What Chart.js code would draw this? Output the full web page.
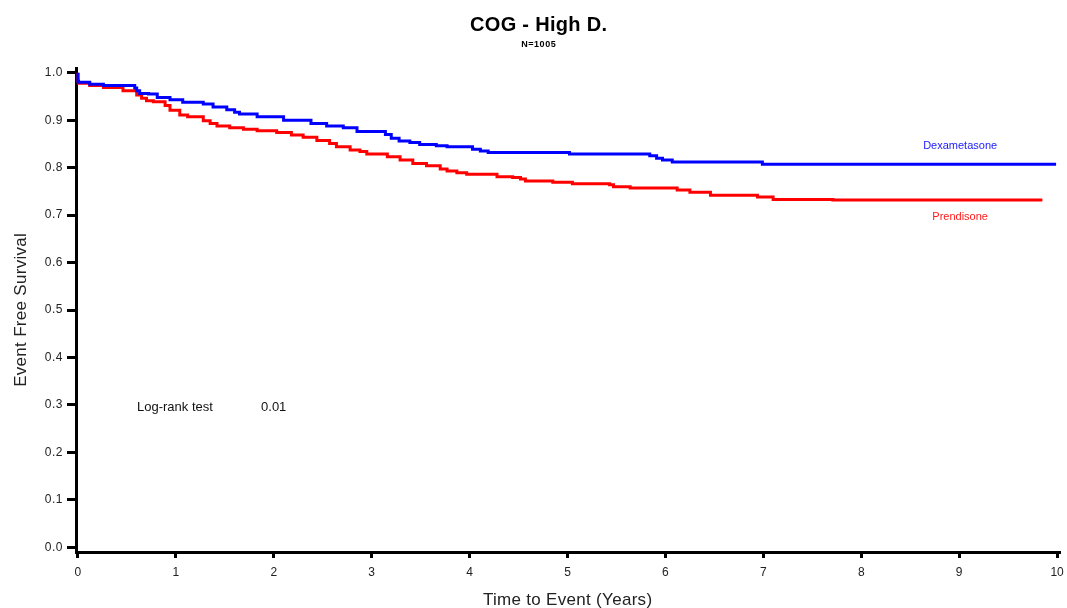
<!DOCTYPE html>
<html>
<head>
<meta charset="utf-8">
<script src="https://cdn.jsdelivr.net/npm/chart.js@4"></script>
<style>
  html, body { margin: 0; padding: 0; background: #fff; }
  #wrap { width: 1067px; height: 608px; position: relative; }
</style>
</head>
<body>
<div id="wrap"><canvas id="km"></canvas></div>
<script>
// Kaplan-Meier step points: time in years, event-free survival after each step
const dexTimes = [0, 0.005, 0.12, 0.26, 0.58, 0.6, 0.63, 0.72, 0.81, 0.94, 1.07, 1.28, 1.38, 1.52, 1.6, 1.65, 1.83, 2.1, 2.38, 2.54, 2.71, 2.85, 3.14, 3.2, 3.28, 3.39, 3.49, 3.66, 3.77, 4.03, 4.11, 4.19, 5.02, 5.84, 5.91, 5.97, 6.07, 6.99, 7.53, 9.99];
const dexSurv  = [1.0, 0.982, 0.98, 0.976, 0.973, 0.968, 0.962, 0.956, 0.955, 0.948, 0.943, 0.938, 0.934, 0.928, 0.922, 0.917, 0.913, 0.907, 0.900, 0.893, 0.888, 0.884, 0.876, 0.870, 0.862, 0.856, 0.853, 0.849, 0.846, 0.844, 0.839, 0.835, 0.832, 0.829, 0.825, 0.820, 0.816, 0.812, 0.807, 0.807];

const predTimes = [0, 0.005, 0.12, 0.26, 0.46, 0.6, 0.65, 0.7, 0.77, 0.89, 0.94, 1.04, 1.12, 1.28, 1.35, 1.42, 1.55, 1.69, 1.83, 2.03, 2.18, 2.3, 2.44, 2.57, 2.64, 2.78, 2.88, 2.95, 3.16, 3.29, 3.42, 3.56, 3.7, 3.77, 3.87, 3.97, 4.28, 4.44, 4.52, 4.57, 4.85, 5.05, 5.43, 5.47, 5.64, 6.12, 6.25, 6.46, 6.94, 7.1, 7.71, 9.85];
const predSurv  = [1.0, 0.982, 0.978, 0.973, 0.969, 0.962, 0.953, 0.946, 0.941, 0.939, 0.931, 0.921, 0.911, 0.907, 0.899, 0.893, 0.888, 0.884, 0.881, 0.878, 0.874, 0.869, 0.864, 0.857, 0.851, 0.844, 0.837, 0.834, 0.829, 0.823, 0.816, 0.809, 0.804, 0.797, 0.793, 0.789, 0.786, 0.781, 0.779, 0.776, 0.772, 0.769, 0.766, 0.764, 0.760, 0.757, 0.753, 0.748, 0.742, 0.738, 0.733, 0.732];

const xTickValues = [0, 1, 2, 3, 4, 5, 6, 7, 8, 9, 10];
const yTickValues = [0, 0.1, 0.2, 0.3, 0.4, 0.5, 0.6, 0.7, 0.8, 0.9, 1.0];

const titleText = 'COG - High D.';
const subtitleText = 'N=1005';
const xTitleText = 'Time to Event (Years)';
const yTitleText = 'Event Free Survival';

const FONT = "'Liberation Sans', Arial, sans-serif";

function toPoints(xs, ys) { return xs.map((x, i) => ({ x: x, y: ys[i] })); }

// Curve labels and the log-rank note, placed in data coordinates
const notes = [
  { text: 'Dexametasone', x: 9.01, y: 0.8457, color: '#1a1aff', size: 11 },
  { text: 'Prendisone', x: 9.01, y: 0.6958, color: '#ff1a1a', size: 11 },
  { text: 'Log-rank test', x: 0.603, y: 0.294, color: '#111', size: 13, align: 'left' },
  { text: '0.01', x: 1.87, y: 0.294, color: '#111', size: 13, align: 'left' }
];

// Text helper with optional letter spacing and rotation
function drawText(ctx, text, x, y, o) {
  const sp = o.spacing || 0;
  const align = o.align || 'center';
  ctx.save();
  ctx.translate(x, y);
  if (o.rotate) ctx.rotate(o.rotate);
  ctx.font = (o.weight || 'normal') + ' ' + o.size + 'px ' + FONT;
  ctx.letterSpacing = sp + 'px';
  ctx.fillStyle = o.color || '#222';
  ctx.textAlign = align;
  ctx.textBaseline = o.baseline || 'middle';
  // trailing spacing is added after the last glyph; keep ink where it belongs
  const shift = align === 'right' ? sp : (align === 'center' ? sp / 2 : 0);
  ctx.fillText(text, shift, 0);
  ctx.restore();
}

const textPlugin = {
  id: 'kmText',
  afterDraw(chart) {
    const { ctx, scales, chartArea } = chart;
    const xs = scales.x, ys = scales.y;

    // heading
    drawText(ctx, titleText, 538.5, 25.5, { size: 20, weight: 'bold', color: '#000', spacing: 0.3 });
    drawText(ctx, subtitleText, 538.5, 44.5, { size: 9, weight: 'bold', color: '#000', spacing: 0.5 });

    // tick labels from the library's own tick lists
    xs.ticks.forEach(t => {
      drawText(ctx, String(t.value), xs.getPixelForValue(t.value), 572.5, { size: 12, color: '#222' });
    });
    ys.ticks.forEach(t => {
      drawText(ctx, t.value.toFixed(1), chartArea.left - 13.5, ys.getPixelForValue(t.value),
        { size: 12, color: '#222', align: 'right', spacing: 0.5 });
    });

    // axis titles
    drawText(ctx, xTitleText, (xs.left + xs.right) / 2 - 0.5, 605,
      { size: 17, color: '#222', baseline: 'alphabetic', spacing: 0.3 });
    drawText(ctx, yTitleText, 26, 310,
      { size: 17, color: '#222', baseline: 'alphabetic', rotate: -Math.PI / 2, spacing: 0.3 });

    // notes
    notes.forEach(n => {
      drawText(ctx, n.text, xs.getPixelForValue(n.x), ys.getPixelForValue(n.y),
        { size: n.size, color: n.color, align: n.align || 'center' });
    });
  }
};

new Chart(document.getElementById('km'), {
  type: 'scatter',
  data: {
    datasets: [
      {
        label: 'Dexametasone',
        data: toPoints(dexTimes, dexSurv),
        borderColor: '#0000ff',
        borderWidth: 3,
        showLine: true,
        stepped: 'after',
        pointRadius: 0,
        fill: false
      },
      {
        label: 'Prendisone',
        data: toPoints(predTimes, predSurv),
        borderColor: '#ff0000',
        borderWidth: 3,
        showLine: true,
        stepped: 'after',
        pointRadius: 0,
        fill: false
      }
    ]
  },
  options: {
    responsive: true,
    maintainAspectRatio: false,
    animation: false,
    devicePixelRatio: 1,
    layout: { padding: { left: 11, right: 7, top: 68, bottom: 0 } },
    plugins: {
      legend: { display: false },
      tooltip: { enabled: false },
      title: { display: false },
      subtitle: { display: false }
    },
    scales: {
      x: {
        type: 'linear',
        min: -0.02,
        max: 10.03,
        afterBuildTicks: s => { s.ticks = xTickValues.map(v => ({ value: v })); },
        afterFit: s => { s.height = 56; },
        border: { display: true, color: '#000', width: 3 },
        grid: { display: true, drawOnChartArea: false, drawTicks: true, tickLength: 6, tickWidth: 3, tickColor: '#000' },
        ticks: { display: false },
        title: { display: false }
      },
      y: {
        type: 'linear',
        min: -0.01,
        max: 1.01,
        afterBuildTicks: s => { s.ticks = yTickValues.map(v => ({ value: v })); },
        afterFit: s => { s.width = 65; },
        border: { display: true, color: '#000', width: 3 },
        grid: { display: true, drawOnChartArea: false, drawTicks: true, tickLength: 9, tickWidth: 3, tickColor: '#000' },
        ticks: { display: false },
        title: { display: false }
      }
    }
  },
  plugins: [textPlugin]
});
</script>
</body>
</html>
